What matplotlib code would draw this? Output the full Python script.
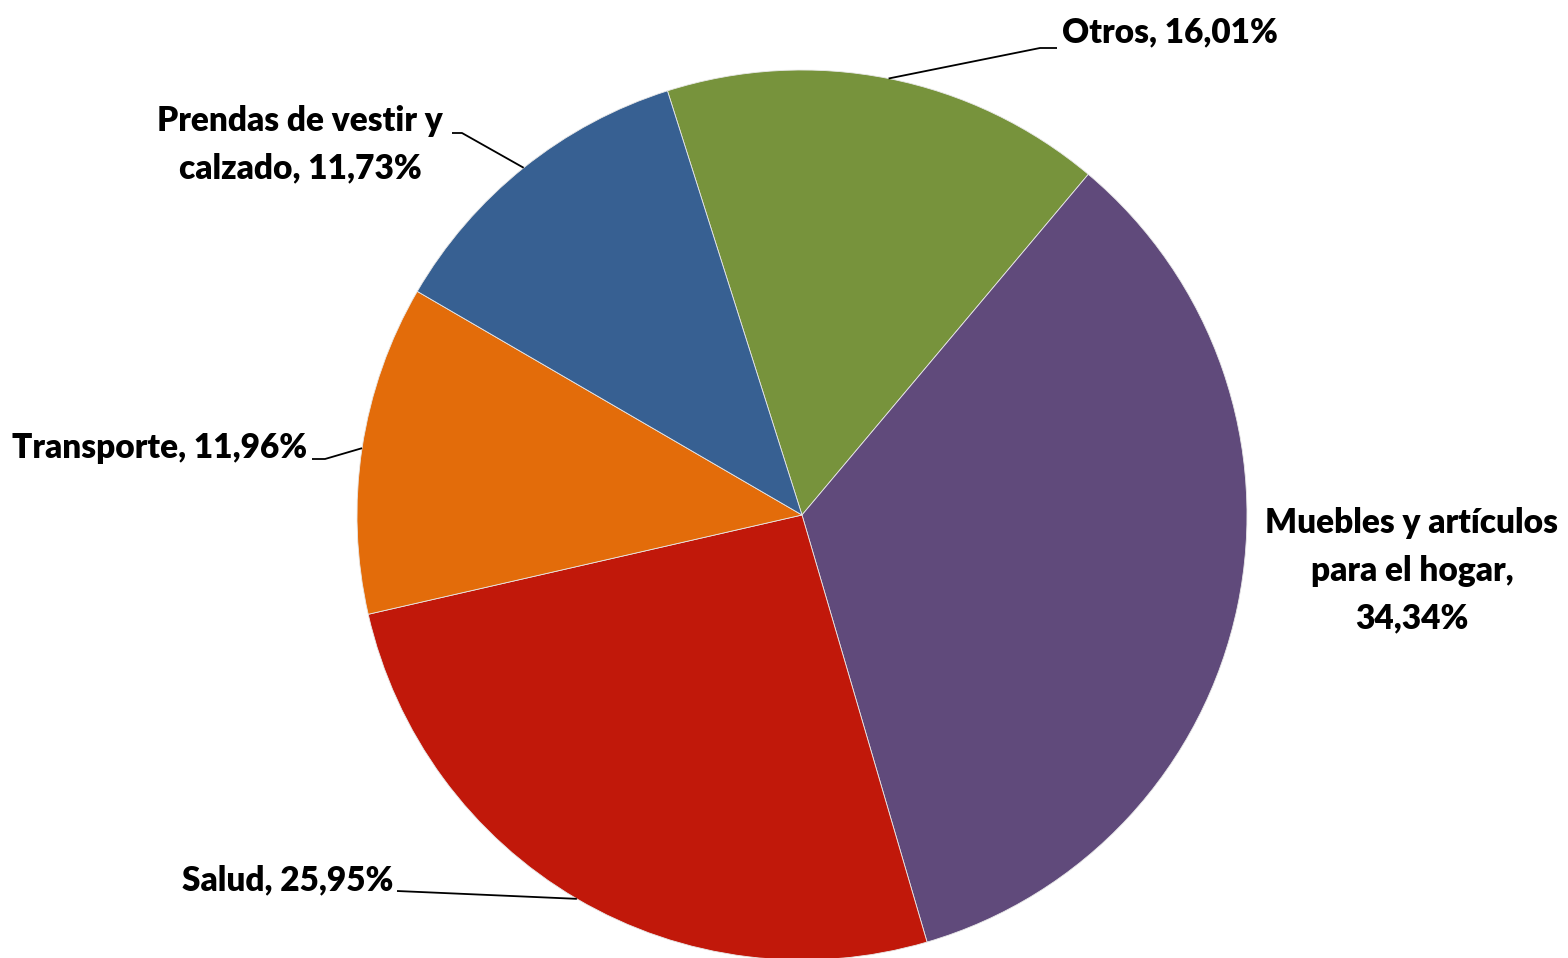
import numpy as np
import matplotlib
matplotlib.use("Agg")
import matplotlib.pyplot as plt

# clockwise order, starting from the top-left edge of "Otros"
categorias = ["Otros", "Muebles y artículos\npara el hogar", "Salud", "Transporte",
              "Prendas de vestir y\ncalzado"]
porcentajes = [16.01, 34.34, 25.95, 11.96, 11.73]
colores = ["#77933C", "#604A7B", "#C1180A", "#E36C0A", "#376092"]

W, H = 1568, 958
plt.rcParams['font.family'] = ['Lato', 'DejaVu Sans']

fig = plt.figure(figsize=(W / 100, H / 100), dpi=100)
ax = fig.add_axes([0, 0, 1, 1])

cx, cy, r = 802, H - 515, 445
wedges, _ = ax.pie(porcentajes, colors=colores, startangle=107.6, counterclock=False,
                   center=(cx, cy), radius=r, frame=True,
                   wedgeprops=dict(linewidth=0.6, edgecolor='#E8E8E8'))
ax.set_xlim(0, W)
ax.set_ylim(0, H)
ax.set_aspect('equal')
ax.axis('off')

# label placement in pixel coords (x, y from top), alignment, leader elbow
etiquetas = [
    dict(xy=(1062, 32), ha='left', elbow=[(1040, 48), (1057, 48)]),
    dict(xy=(1412, 571), ha='center', elbow=None),
    dict(xy=(393, 880), ha='right', elbow=[(420, 892), (397, 891)]),
    dict(xy=(307, 448), ha='right', elbow=[(325, 459), (312, 459)]),
    dict(xy=(300, 145), ha='center', elbow=[(462, 133), (452, 133)]),
]

for w, cat, pct, lab in zip(wedges, categorias, porcentajes, etiquetas):
    texto = f"{cat}, {pct:.2f}%".replace('.', ',')
    if cat.startswith("Muebles"):
        texto = "Muebles y artículos\npara el hogar,\n" + f"{pct:.2f}%".replace('.', ',')
    x, y = lab['xy']
    ax.text(x, H - y, texto, ha=lab['ha'], va='center', fontsize=24,
            fontweight='heavy', color='black', linespacing=1.6,
            multialignment='center')
    if lab['elbow']:
        ang = np.deg2rad((w.theta1 + w.theta2) / 2)
        ax_pt = (cx + r * np.cos(ang), cy + r * np.sin(ang))
        pts = [ax_pt] + [(px, H - py) for px, py in lab['elbow']]
        ax.plot([p[0] for p in pts], [p[1] for p in pts], color='black', lw=1.3,
                solid_capstyle='butt')

fig.savefig("out.png", dpi=100)
